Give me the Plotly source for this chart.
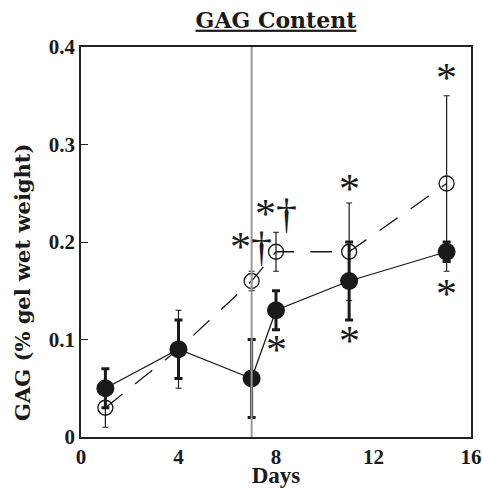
import plotly.graph_objects as go

days = [1, 4, 7, 8, 11, 15]
filled_y = [0.05, 0.09, 0.06, 0.13, 0.16, 0.19]
filled_err = [0.02, 0.03, 0.04, 0.02, 0.04, 0.01]
open_y = [0.03, 0.09, 0.16, 0.19, 0.19, 0.26]
open_err = [0.02, 0.04, 0.01, 0.02, 0.05, 0.09]

marker_day = 7
ann_x = [15, 15, 11, 11, 8, 8.0, 6.97]
ann_y = [0.376, 0.155, 0.263, 0.107, 0.097, 0.237, 0.203]
ann_text = ["*", "*", "*", "*", "*", "*†", "*†"]

x_ticks = [0, 4, 8, 12, 16]
y_ticks = [0, 0.1, 0.2, 0.3, 0.4]
y_tick_labels = ["0", "0.1", "0.2", "0.3", "0.4"]

TICK_FONT = "Liberation Serif"
TITLE_FONT = "DejaVu Serif"
INK = "#1a1a1a"

W, H = 483, 488
ML, MR, MT, MB = 81, 12, 47, 51

fig = go.Figure()

fig.add_trace(go.Scatter(
    x=days, y=open_y, mode="lines+markers",
    line=dict(color=INK, width=1.3, dash="22px,16px"),
    marker=dict(symbol="circle-open", size=15, color=INK, line=dict(width=1.3)),
    error_y=dict(type="data", array=open_err, color=INK, thickness=1.2, width=3),
    showlegend=False,
))
fig.add_trace(go.Scatter(
    x=days, y=filled_y, mode="lines+markers",
    line=dict(color=INK, width=1.3),
    marker=dict(symbol="circle", size=18, color=INK),
    error_y=dict(type="data", array=filled_err, color=INK, thickness=3, width=4),
    showlegend=False,
))

fig.add_shape(type="line", x0=marker_day, x1=marker_day, xref="x", y0=0, y1=1, yref="paper",
              line=dict(color="#9a9a9a", width=2))

for ax, ay, t in zip(ann_x, ann_y, ann_text):
    fig.add_annotation(x=ax, y=ay, text=t, showarrow=False,
                       font=dict(family=TICK_FONT, size=42, color=INK), yshift=-8)

# y-axis title, placed as in the reference (slightly below the plot's middle)
plot_w = W - ML - MR
plot_h = H - MT - MB
fig.add_annotation(
    text="<b>GAG (% gel wet weight)</b>", textangle=-90, showarrow=False,
    xref="paper", yref="paper",
    x=(22 - ML) / plot_w, y=(H - MB - 283) / plot_h,
    xanchor="center", yanchor="middle",
    font=dict(family=TITLE_FONT, size=21, color=INK),
)

fig.update_layout(
    width=W, height=H,
    margin=dict(l=ML, r=MR, t=MT, b=MB, autoexpand=False),
    paper_bgcolor="white", plot_bgcolor="white",
    font=dict(family=TICK_FONT, color=INK),
    title=dict(text="<b><u>GAG Content</u></b>", x=276 / W, xanchor="center",
               y=1 - 20 / H, yanchor="middle", font=dict(family=TITLE_FONT, size=22, color=INK)),
)
fig.update_xaxes(
    range=[0, 16], tickvals=x_ticks, ticktext=[f"<b>{v}</b>" for v in x_ticks],
    showgrid=False, zeroline=False, showline=True, mirror=True, automargin=False,
    linecolor="#222", linewidth=1.5, ticks="",
    tickfont=dict(family=TICK_FONT, size=21, color=INK),
    title=dict(text="<b>Days</b>", font=dict(family=TICK_FONT, size=23, color=INK), standoff=0),
)
fig.update_yaxes(
    range=[0, 0.4], tickvals=y_ticks, ticktext=[f"<b>{v}</b>" for v in y_tick_labels],
    showgrid=False, zeroline=False, showline=True, mirror=True, automargin=False,
    linecolor="#222", linewidth=1.5, ticks="inside", ticklen=7, tickcolor="#222",
    tickfont=dict(family=TICK_FONT, size=21, color=INK),
)

fig.write_html("out.html", config={"displayModeBar": False},
               post_script="document.body.style.margin='0';")
